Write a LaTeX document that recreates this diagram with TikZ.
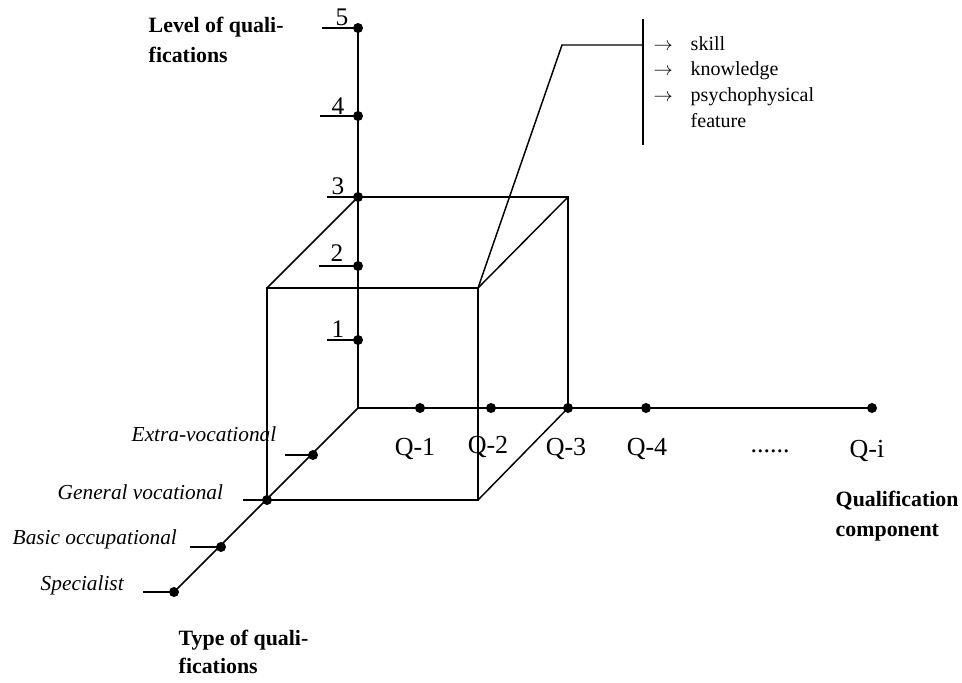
\documentclass[tikz,border=0pt]{standalone}
\usepackage{fontspec}
\setmainfont{Liberation Serif}
\begin{document}
\begin{tikzpicture}[x=0.75pt,y=-0.75pt,line width=1.1pt,
  dot/.style={circle,fill=black,inner sep=0pt,minimum size=7.5pt},
  num/.style={anchor=base,inner sep=0pt,font=\fontsize{19}{19}\selectfont},
  qlab/.style={anchor=base,inner sep=0pt,font=\fontsize{19.5}{19.5}\selectfont},
  typ/.style={anchor=base west,inner sep=0pt,font=\fontsize{16}{16}\selectfont\itshape},
  ttl/.style={anchor=base west,inner sep=0pt,font=\fontsize{16.4}{16.4}\selectfont\bfseries},
  lst/.style={anchor=base west,inner sep=0pt,font=\fontsize{15}{15}\selectfont}]
\useasboundingbox (0,0) rectangle (962,682);
% vertical axis points
\node[dot] (v5) at (358,28) {};
\node[dot] (v4) at (358,116) {};
\node[dot] (v3) at (358,197) {};
\node[dot] (v2) at (358,266) {};
\node[dot] (v1) at (358,340) {};
\coordinate (o) at (358,408);
% horizontal axis
\node[dot] (q1) at (420,408) {};
\node[dot] (q2) at (491,408) {};
\node[dot] (q3) at (568,408) {};
\node[dot] (q4) at (646,408) {};
\node[dot] (qi) at (872,408) {};
% diagonal axis
\node[dot] (d1) at (313,455) {};
\node[dot] (d2) at (267,500) {};
\node[dot] (d3) at (221,547) {};
\node[dot] (d4) at (174,592) {};
% tick ends
\coordinate (t5) at (322,28);
\coordinate (t4) at (320,116);
\coordinate (t3) at (327,197);
\coordinate (t2) at (319,266);
\coordinate (t1) at (327,340);
\coordinate (e1) at (285,455);
\coordinate (e2) at (243,500);
\coordinate (e3) at (190,547);
\coordinate (e4) at (143,592);
% cube
\coordinate (f1) at (267,288);
\coordinate (f2) at (478,288);
\coordinate (f3) at (478,500);
\coordinate (b2) at (568,197);
% callout
\coordinate (c1) at (562,45);
\coordinate (c2) at (643,45);
\coordinate (bt) at (643,19);
\coordinate (bb) at (643,145);

% axes
\draw (v5.center) -- (o);
\draw (o) -- (qi.center);
\draw (o) -- (d4.center);
% ticks
\draw (t5) -- (v5.center);
\draw (t4) -- (v4.center);
\draw (t3) -- (v3.center);
\draw (t2) -- (v2.center);
\draw (t1) -- (v1.center);
\draw (e1) -- (d1.center);
\draw (e2) -- (d2.center);
\draw (e3) -- (d3.center);
\draw (e4) -- (d4.center);
% cube
\draw (f1) -- (f2) -- (f3) -- (d2.center) -- cycle;
\draw (v3.center) -- (b2) -- (q3.center);
\draw (f1) -- (v3.center);
\draw (f2) -- (b2);
\draw (f3) -- (q3.center);
% callout
\draw (f2) -- (c1) -- (c2);
\draw (bt) -- (bb);

% numbers
\node[num] (n5) at (342,25) {5};
\node[num] (n4) at (338,114) {4};
\node[num] (n3) at (338,194) {3};
\node[num] (n2) at (337,261) {2};
\node[num] (n1) at (338,337) {1};
% Q labels
\node[qlab] (lq1) at (415,455) {Q-1};
\node[qlab] (lq2) at (488,453) {Q-2};
\node[qlab] (lq3) at (566,455) {Q-3};
\node[qlab] (lq4) at (647,455) {Q-4};
\node[qlab] (ldots) at (770,452) {......};
\node[qlab] (lqi) at (867,457) {Q-i};
% type labels
\node[typ] (ty1) at (131,441) {Extra-vocational};
\node[typ] (ty2) at (57,499) {General vocational};
\node[typ] (ty3) at (12,544) {Basic occupational};
\node[typ] (ty4) at (40,590) {Specialist};
% titles
\node[ttl] (lv1) at (148,32) {Level of quali-};
\node[ttl] (lv2) at (148,62) {fications};
\node[ttl] (tp1) at (178,645) {Type of quali-};
\node[ttl] (tp2) at (178,673) {fications};
\node[ttl] (qc1) at (835,506) {Qualification};
\node[ttl] (qc2) at (835,536) {component};
% list
\node[lst] (a1) at (653,50) {$\rightarrow$};
\node[lst] (a2) at (653,75) {$\rightarrow$};
\node[lst] (a3) at (653,101) {$\rightarrow$};
\node[lst] (s1) at (690,50) {skill};
\node[lst] (s2) at (690,75) {knowledge};
\node[lst] (s3) at (690,101) {psychophysical};
\node[lst] (s4) at (690,127) {feature};
\end{tikzpicture}
\end{document}
